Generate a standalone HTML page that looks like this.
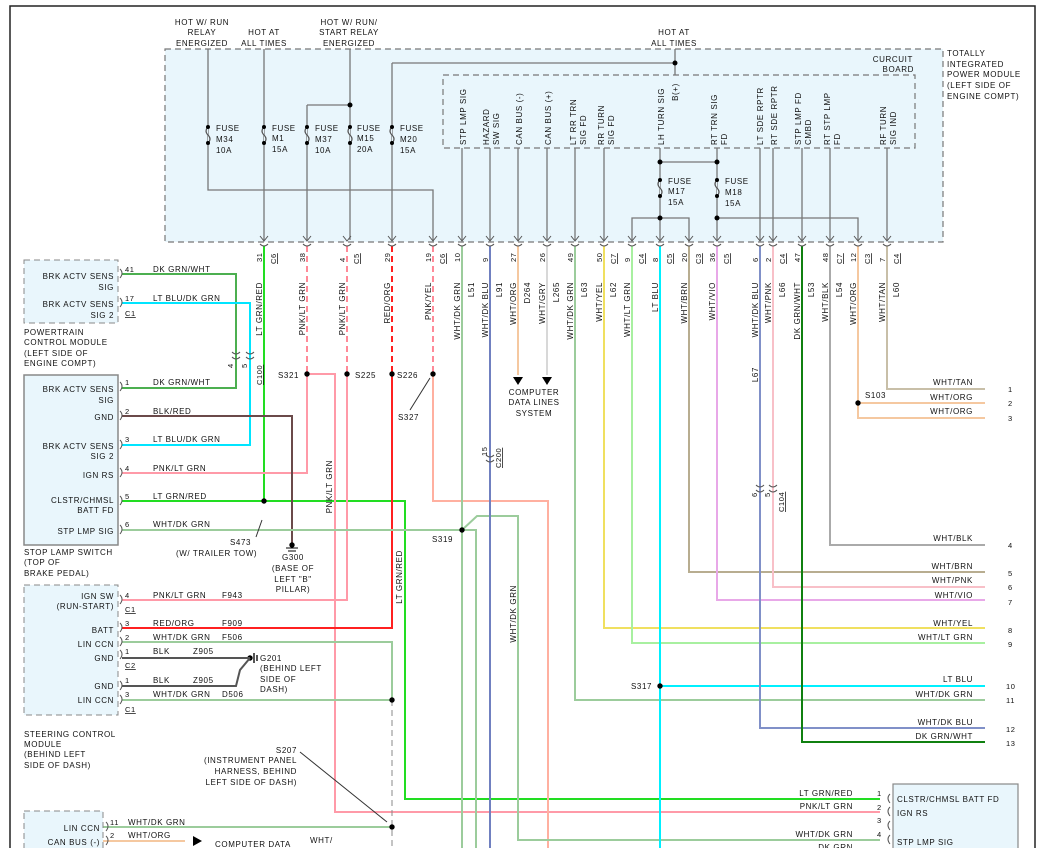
<!DOCTYPE html>
<html><head><meta charset="utf-8"><style>
html,body{margin:0;padding:0;background:#fff;}
svg{display:block;font-family:"Liberation Sans",sans-serif;font-size:8px;fill:#111;letter-spacing:0.6px;}
.w{fill:none;stroke-width:2;}
.t{fill:none;stroke:#777;stroke-width:1.3;}
.d{fill:#000;}
</style></head><body>
<svg width="1038" height="848" viewBox="0 0 1038 848" xmlns="http://www.w3.org/2000/svg">
<rect x="10" y="6" width="1025" height="860" fill="#fff" stroke="#222" stroke-width="1.5"/>
<!-- TIPM -->
<rect x="165" y="49" width="778" height="193" fill="#e9f6fc" stroke="#777" stroke-dasharray="6,4" stroke-width="1.2"/>
<rect x="443" y="75" width="472" height="73" fill="#e9f6fc" stroke="#777" stroke-dasharray="6,4" stroke-width="1.2"/>
<g text-anchor="middle">
<text x="202" y="25">HOT W/ RUN</text><text x="202" y="35">RELAY</text><text x="202" y="46">ENERGIZED</text>
<text x="264" y="35">HOT AT</text><text x="264" y="46">ALL TIMES</text>
<text x="349" y="25">HOT W/ RUN/</text><text x="349" y="35">START RELAY</text><text x="349" y="46">ENERGIZED</text>
<text x="674" y="35">HOT AT</text><text x="674" y="46">ALL TIMES</text>
</g>
<text x="947" y="56">TOTALLY</text><text x="947" y="67">INTEGRATED</text><text x="947" y="77">POWER MODULE</text><text x="947" y="88">(LEFT SIDE OF</text><text x="947" y="99">ENGINE COMPT)</text>
<text x="913" y="62" text-anchor="end">CURCUIT</text><text x="914" y="72" text-anchor="end">BOARD</text>
<!-- internal lines -->
<path class="t" d="M208 49V190H433V240 M264 49V240 M350 49V240 M307 105H350 M307 105V240 M392 63V240 M392 63H675 M675 49V75 M462 148V240 M490 148V240 M518 148V240 M547 148V240 M575 148V240 M604 148V240 M660 148V240 M660 162H717 M717 148V240 M632 240V218H689V240 M717 218H858V240 M760 148V240 M773 148V240 M802 148V240 M830 148V240 M887 148V240"/>
<g class="d"><circle cx="350" cy="105" r="2.5"/><circle cx="675" cy="63" r="2.5"/><circle cx="660" cy="162" r="2.5"/><circle cx="717" cy="162" r="2.5"/><circle cx="660" cy="218" r="2.5"/><circle cx="717" cy="218" r="2.5"/></g>
<text x="678" y="92" transform="rotate(-90 678 92)" text-anchor="middle">B(+)</text>
<!-- fuses -->
<g id="fz">
</g>
<g fill="#e9f6fc" stroke="#555" stroke-width="1.2">
<path d="M208 127q-4 4 0 8t0 8 M264 127q-4 4 0 8t0 8 M307 127q-4 4 0 8t0 8 M350 127q-4 4 0 8t0 8 M392 127q-4 4 0 8t0 8 M660 180q-4 4 0 8t0 8 M717 180q-4 4 0 8t0 8"/>
</g>
<g class="d">
<circle cx="208" cy="127" r="2"/><circle cx="208" cy="143" r="2"/><circle cx="264" cy="127" r="2"/><circle cx="264" cy="143" r="2"/><circle cx="307" cy="127" r="2"/><circle cx="307" cy="143" r="2"/><circle cx="350" cy="127" r="2"/><circle cx="350" cy="143" r="2"/><circle cx="392" cy="127" r="2"/><circle cx="392" cy="143" r="2"/><circle cx="660" cy="180" r="2"/><circle cx="660" cy="196" r="2"/><circle cx="717" cy="180" r="2"/><circle cx="717" cy="196" r="2"/>
</g>
<text x="216" y="131">FUSE</text><text x="216" y="142">M34</text><text x="216" y="153">10A</text>
<text x="272" y="131">FUSE</text><text x="272" y="141">M1</text><text x="272" y="152">15A</text>
<text x="315" y="131">FUSE</text><text x="315" y="142">M37</text><text x="315" y="153">10A</text>
<text x="357" y="131">FUSE</text><text x="357" y="141">M15</text><text x="357" y="152">20A</text>
<text x="400" y="131">FUSE</text><text x="400" y="142">M20</text><text x="400" y="153">15A</text>
<text x="668" y="184">FUSE</text><text x="668" y="194">M17</text><text x="668" y="205">15A</text>
<text x="725" y="184">FUSE</text><text x="725" y="195">M18</text><text x="725" y="206">15A</text>
<!-- board signal labels (rotated) -->
<g text-anchor="start">
<text transform="translate(466,145) rotate(-90)">STP LMP SIG</text>
<text transform="translate(489,145) rotate(-90)">HAZARD</text><text transform="translate(499,145) rotate(-90)">SW SIG</text>
<text transform="translate(522,145) rotate(-90)">CAN BUS (-)</text>
<text transform="translate(551,145) rotate(-90)">CAN BUS (+)</text>
<text transform="translate(576,145) rotate(-90)">LT RR TRN</text><text transform="translate(586,145) rotate(-90)">SIG FD</text>
<text transform="translate(604,145) rotate(-90)">RR TURN</text><text transform="translate(614,145) rotate(-90)">SIG FD</text>
<text transform="translate(664,145) rotate(-90)">LH TURN SIG</text>
<text transform="translate(717,145) rotate(-90)">RT TRN SIG</text><text transform="translate(727,145) rotate(-90)">FD</text>
<text transform="translate(763,145) rotate(-90)">LT SDE RPTR</text>
<text transform="translate(777,145) rotate(-90)">RT SDE RPTR</text>
<text transform="translate(801,145) rotate(-90)">STP LMP FD</text><text transform="translate(811,145) rotate(-90)">CMBD</text>
<text transform="translate(830,145) rotate(-90)">RT STP LMP</text><text transform="translate(840,145) rotate(-90)">FD</text>
<text transform="translate(886,145) rotate(-90)">RF TURN</text><text transform="translate(896,145) rotate(-90)">SIG IND</text>
</g>
<!-- wires -->
<path class="w" stroke="#22dd22" d="M264 246V501 M122 501H405V799H880"/>
<path class="w" stroke="#ff8a98" d="M307 246V374" stroke-dasharray="6,4"/>
<path class="w" stroke="#ff8a98" d="M347 246V374" stroke-dasharray="6,4"/>
<path class="w" stroke="#ff2020" d="M392 246V374" stroke-dasharray="6,4"/>
<path class="w" stroke="#ff8a98" d="M433 246V374" stroke-dasharray="6,4"/>
<path class="w" stroke="#ff9aa8" d="M122 473H307V374H335V812H880 M347 374V600H122"/>
<path class="w" stroke="#ff2020" d="M392 374V628H122"/>
<path class="w" stroke="#ffb0a0" d="M433 374V501H548V848"/>
<path class="w" stroke="#4caf50" d="M122 274H236V388H122"/>
<path class="w" stroke="#00e5ff" d="M122 303H250V445H122"/>
<path class="w" stroke="#6b4a4a" d="M122 416H292V545"/>
<path class="w" stroke="#9ccc9c" d="M122 530H462 M462 246V848 M462 530L477 516H518V840H880 M462 530H476V848 M122 642H392V700 M122 700H392 M103 827H392 M575 246V700H985"/>
<path class="w" stroke="#7080c0" stroke-width="1.5" d="M490 246V848"/>
<path class="w" stroke="#f5c8a0" d="M518 246V375 M103 841H185"/>
<path class="w" stroke="#d8d8d8" d="M547 246V375"/>
<path class="w" stroke="#f0e060" d="M604 246V628H985"/>
<path class="w" stroke="#a8f0a0" d="M632 246V643H985"/>
<path class="w" stroke="#00f0ff" d="M660 246V848 M660 686H985"/>
<path class="w" stroke="#b8ad90" d="M689 246V572H985"/>
<path class="w" stroke="#e8a8e8" d="M717 246V600H985"/>
<path class="w" stroke="#8090c8" stroke-width="1.5" d="M760 246V728H985"/>
<path class="w" stroke="#f8c0c8" d="M773 246V587H985"/>
<path class="w" stroke="#108010" d="M802 246V742H985"/>
<path class="w" stroke="#aaa" d="M830 246V545H985"/>
<path class="w" stroke="#f5c8a0" d="M858 246V418H985 M858 403H985"/>
<path class="w" stroke="#c8bfa8" d="M887 246V389H985"/>
<path d="M392 700V848" stroke="#888" stroke-dasharray="6,4" fill="none"/>
<!-- arrows -->
<path d="M513 377h10l-5 8z M542 377h10l-5 8z M193 836v10l9-5z" fill="#000"/>
<text x="534" y="395" text-anchor="middle">COMPUTER</text><text x="534" y="405" text-anchor="middle">DATA LINES</text><text x="534" y="416" text-anchor="middle">SYSTEM</text>
<!-- connectors at box bottom -->
<g fill="none" stroke="#555" stroke-width="1">
<path d="M260 236l4 5 4-5 M260 244q4 4 8 0 M303 236l4 5 4-5 M303 244q4 4 8 0 M343 236l4 5 4-5 M343 244q4 4 8 0 M388 236l4 5 4-5 M388 244q4 4 8 0 M429 236l4 5 4-5 M429 244q4 4 8 0 M458 236l4 5 4-5 M458 244q4 4 8 0 M486 236l4 5 4-5 M486 244q4 4 8 0 M514 236l4 5 4-5 M514 244q4 4 8 0 M543 236l4 5 4-5 M543 244q4 4 8 0 M571 236l4 5 4-5 M571 244q4 4 8 0 M600 236l4 5 4-5 M600 244q4 4 8 0 M628 236l4 5 4-5 M628 244q4 4 8 0 M656 236l4 5 4-5 M656 244q4 4 8 0 M685 236l4 5 4-5 M685 244q4 4 8 0 M713 236l4 5 4-5 M713 244q4 4 8 0 M756 236l4 5 4-5 M756 244q4 4 8 0 M769 236l4 5 4-5 M769 244q4 4 8 0 M798 236l4 5 4-5 M798 244q4 4 8 0 M826 236l4 5 4-5 M826 244q4 4 8 0 M854 236l4 5 4-5 M854 244q4 4 8 0 M883 236l4 5 4-5 M883 244q4 4 8 0"/>
<path d="M232 352q4 4 8 0M232 357q4 4 8 0M246 352q4 4 8 0M246 357q4 4 8 0 M486 455q4 4 8 0M486 460q4 4 8 0 M756 485q4 4 8 0M756 490q4 4 8 0M769 485q4 4 8 0M769 490q4 4 8 0"/>
<path d="M120 269q4 4 0 9 M120 298q4 4 0 9 M120 382q4 4 0 9 M120 411q4 4 0 9 M120 440q4 4 0 9 M120 468q4 4 0 9 M120 496q4 4 0 9 M120 525q4 4 0 9 M120 595q4 4 0 9 M120 623q4 4 0 9 M120 637q4 4 0 9 M120 650q4 4 0 9 M120 681q4 4 0 9 M120 695q4 4 0 9 M106 822q4 4 0 9 M106 836q4 4 0 9 M890 794q-4 4 0 9 M890 807q-4 4 0 9 M890 821q-4 4 0 9 M890 835q-4 4 0 9"/>
</g>
<!-- rotated pin nums & wire labels -->
<g font-size="7.5">
<text transform="translate(262,262) rotate(-90)">31</text><text transform="translate(276,264) rotate(-90)" text-decoration="underline">C6</text>
<text transform="translate(305,262) rotate(-90)">38</text>
<text transform="translate(345,262) rotate(-90)">4</text><text transform="translate(359,264) rotate(-90)" text-decoration="underline">C5</text>
<text transform="translate(390,262) rotate(-90)">29</text>
<text transform="translate(431,262) rotate(-90)">19</text><text transform="translate(445,264) rotate(-90)" text-decoration="underline">C6</text>
<text transform="translate(460,262) rotate(-90)">10</text>
<text transform="translate(488,262) rotate(-90)">9</text>
<text transform="translate(516,262) rotate(-90)">27</text>
<text transform="translate(545,262) rotate(-90)">26</text>
<text transform="translate(573,262) rotate(-90)">49</text>
<text transform="translate(602,262) rotate(-90)">50</text><text transform="translate(616,264) rotate(-90)" text-decoration="underline">C7</text>
<text transform="translate(630,262) rotate(-90)">9</text><text transform="translate(644,264) rotate(-90)" text-decoration="underline">C4</text>
<text transform="translate(658,262) rotate(-90)">8</text><text transform="translate(672,264) rotate(-90)" text-decoration="underline">C5</text>
<text transform="translate(687,262) rotate(-90)">20</text><text transform="translate(701,264) rotate(-90)" text-decoration="underline">C3</text>
<text transform="translate(715,262) rotate(-90)">36</text><text transform="translate(729,264) rotate(-90)" text-decoration="underline">C5</text>
<text transform="translate(758,262) rotate(-90)">6</text>
<text transform="translate(771,262) rotate(-90)">2</text><text transform="translate(785,264) rotate(-90)" text-decoration="underline">C4</text>
<text transform="translate(800,262) rotate(-90)">47</text>
<text transform="translate(828,262) rotate(-90)">48</text><text transform="translate(842,264) rotate(-90)" text-decoration="underline">C7</text>
<text transform="translate(856,262) rotate(-90)">12</text><text transform="translate(870,264) rotate(-90)" text-decoration="underline">C3</text>
<text transform="translate(885,262) rotate(-90)">7</text><text transform="translate(899,264) rotate(-90)" text-decoration="underline">C4</text>
</g>
<g text-anchor="end">
<text transform="translate(262,282) rotate(-90)">LT GRN/RED</text>
<text transform="translate(305,282) rotate(-90)">PNK/LT GRN</text>
<text transform="translate(345,282) rotate(-90)">PNK/LT GRN</text>
<text transform="translate(390,282) rotate(-90)">RED/ORG</text>
<text transform="translate(431,282) rotate(-90)">PNK/YEL</text>
<text transform="translate(460,282) rotate(-90)">WHT/DK GRN</text><text transform="translate(474,282) rotate(-90)">L51</text>
<text transform="translate(488,282) rotate(-90)">WHT/DK BLU</text><text transform="translate(502,282) rotate(-90)">L91</text>
<text transform="translate(516,282) rotate(-90)">WHT/ORG</text><text transform="translate(530,282) rotate(-90)">D264</text>
<text transform="translate(545,282) rotate(-90)">WHT/GRY</text><text transform="translate(559,282) rotate(-90)">L265</text>
<text transform="translate(573,282) rotate(-90)">WHT/DK GRN</text><text transform="translate(587,282) rotate(-90)">L63</text>
<text transform="translate(602,282) rotate(-90)">WHT/YEL</text><text transform="translate(616,282) rotate(-90)">L62</text>
<text transform="translate(630,282) rotate(-90)">WHT/LT GRN</text>
<text transform="translate(658,282) rotate(-90)">LT BLU</text>
<text transform="translate(687,282) rotate(-90)">WHT/BRN</text>
<text transform="translate(715,282) rotate(-90)">WHT/VIO</text>
<text transform="translate(758,282) rotate(-90)">WHT/DK BLU</text>
<text transform="translate(771,282) rotate(-90)">WHT/PNK</text><text transform="translate(785,282) rotate(-90)">L66</text>
<text transform="translate(800,282) rotate(-90)">DK GRN/WHT</text><text transform="translate(814,282) rotate(-90)">L53</text>
<text transform="translate(828,282) rotate(-90)">WHT/BLK</text><text transform="translate(842,282) rotate(-90)">L54</text>
<text transform="translate(856,282) rotate(-90)">WHT/ORG</text>
<text transform="translate(885,282) rotate(-90)">WHT/TAN</text><text transform="translate(899,282) rotate(-90)">L60</text>
<text transform="translate(758,367) rotate(-90)">L67</text>
<text transform="translate(332,460) rotate(-90)">PNK/LT GRN</text>
<text transform="translate(402,550) rotate(-90)">LT GRN/RED</text>
<text transform="translate(516,585) rotate(-90)">WHT/DK GRN</text>
</g>
<g font-size="7.5">
<text transform="translate(233,368) rotate(-90)">4</text><text transform="translate(247,368) rotate(-90)">5</text>
<text transform="translate(262,385) rotate(-90)" text-decoration="underline">C100</text>
<text transform="translate(487,456) rotate(-90)">15</text><text transform="translate(501,468) rotate(-90)" text-decoration="underline">C200</text>
<text transform="translate(757,497) rotate(-90)">6</text><text transform="translate(770,497) rotate(-90)">5</text>
<text transform="translate(784,512) rotate(-90)" text-decoration="underline">C104</text>
</g>
<!-- splices -->
<g class="d"><circle cx="307" cy="374" r="2.7"/><circle cx="347" cy="374" r="2.7"/><circle cx="392" cy="374" r="2.7"/><circle cx="433" cy="374" r="2.7"/><circle cx="264" cy="501" r="2.7"/><circle cx="462" cy="530" r="2.7"/><circle cx="858" cy="403" r="2.7"/><circle cx="660" cy="686" r="2.7"/><circle cx="392" cy="700" r="2.7"/><circle cx="392" cy="827" r="2.7"/><circle cx="292" cy="545" r="2.7"/><circle cx="250" cy="658" r="2.7"/></g>
<text x="278" y="378">S321</text><text x="355" y="378">S225</text><text x="397" y="378">S226</text><text x="398" y="420">S327</text>
<text x="432" y="542">S319</text><text x="631" y="689">S317</text><text x="865" y="398">S103</text>
<path d="M410 410L430 378 M262 520L256 537 M300 752L387 822" stroke="#333" fill="none"/>
<text x="230" y="545">S473</text><text x="176" y="556">(W/ TRAILER TOW)</text>
<g text-anchor="middle"><text x="293" y="560">G300</text><text x="293" y="571">(BASE OF</text><text x="293" y="582">LEFT "B"</text><text x="293" y="592">PILLAR)</text></g>
<path d="M286 548h12M288 551h8" stroke="#000"/>
<path d="M122 658H250 M122 686H236L240 670L250 658 M254 653v10M257 655v6" stroke="#555" stroke-width="2" fill="none"/>
<text x="260" y="661">G201</text><text x="260" y="671">(BEHIND LEFT</text><text x="260" y="682">SIDE OF</text><text x="260" y="692">DASH)</text>
<text x="297" y="753" text-anchor="end">S207</text><text x="297" y="763" text-anchor="end">(INSTRUMENT PANEL</text><text x="297" y="774" text-anchor="end">HARNESS, BEHIND</text><text x="297" y="785" text-anchor="end">LEFT SIDE OF DASH)</text>
<!-- left modules -->
<rect x="24" y="260" width="94" height="63" fill="#e9f6fc" stroke="#888" stroke-dasharray="6,4"/>
<g text-anchor="end"><text x="114" y="279">BRK ACTV SENS</text><text x="114" y="290">SIG</text><text x="114" y="307">BRK ACTV SENS</text><text x="114" y="318">SIG 2</text></g>
<text x="24" y="335">POWERTRAIN</text><text x="24" y="345">CONTROL MODULE</text><text x="24" y="356">(LEFT SIDE OF</text><text x="24" y="366">ENGINE COMPT)</text>
<rect x="24" y="375" width="94" height="170" fill="#e9f6fc" stroke="#888" stroke-width="1.5"/>
<g text-anchor="end"><text x="114" y="392">BRK ACTV SENS</text><text x="114" y="403">SIG</text><text x="114" y="420">GND</text><text x="114" y="449">BRK ACTV SENS</text><text x="114" y="459">SIG 2</text><text x="114" y="478">IGN RS</text><text x="114" y="503">CLSTR/CHMSL</text><text x="114" y="513">BATT FD</text><text x="114" y="534">STP LMP SIG</text></g>
<text x="24" y="555">STOP LAMP SWITCH</text><text x="24" y="565">(TOP OF</text><text x="24" y="576">BRAKE PEDAL)</text>
<rect x="24" y="585" width="94" height="130" fill="#e9f6fc" stroke="#888" stroke-dasharray="6,4"/>
<g text-anchor="end"><text x="114" y="599">IGN SW</text><text x="114" y="609">(RUN-START)</text><text x="114" y="633">BATT</text><text x="114" y="647">LIN CCN</text><text x="114" y="661">GND</text><text x="114" y="689">GND</text><text x="114" y="703">LIN CCN</text></g>
<text x="24" y="737">STEERING CONTROL</text><text x="24" y="747">MODULE</text><text x="24" y="757">(BEHIND LEFT</text><text x="24" y="768">SIDE OF DASH)</text>
<rect x="24" y="811" width="79" height="50" fill="#e9f6fc" stroke="#888" stroke-dasharray="6,4"/>
<g text-anchor="end"><text x="100" y="831">LIN CCN</text><text x="100" y="845">CAN BUS (-)</text></g>
<!-- left pin labels -->
<g font-size="7.5"><text x="125" y="272">41</text><text x="125" y="301">17</text><text x="125" y="316" text-decoration="underline">C1</text>
<text x="125" y="385">1</text><text x="125" y="414">2</text><text x="125" y="442">3</text><text x="125" y="471">4</text><text x="125" y="499">5</text><text x="125" y="527">6</text>
<text x="125" y="598">4</text><text x="125" y="612" text-decoration="underline">C1</text><text x="125" y="626">3</text><text x="125" y="640">2</text><text x="125" y="654">1</text><text x="125" y="668" text-decoration="underline">C2</text><text x="125" y="683">1</text><text x="125" y="697">3</text><text x="125" y="712" text-decoration="underline">C1</text>
<text x="110" y="825">11</text><text x="110" y="838">2</text></g>
<text x="153" y="272">DK GRN/WHT</text><text x="153" y="301">LT BLU/DK GRN</text><text x="153" y="385">DK GRN/WHT</text><text x="153" y="414">BLK/RED</text><text x="153" y="442">LT BLU/DK GRN</text><text x="153" y="471">PNK/LT GRN</text><text x="153" y="499">LT GRN/RED</text><text x="153" y="527">WHT/DK GRN</text>
<text x="153" y="598">PNK/LT GRN</text><text x="222" y="598">F943</text><text x="153" y="626">RED/ORG</text><text x="222" y="626">F909</text><text x="153" y="640">WHT/DK GRN</text><text x="222" y="640">F506</text><text x="153" y="654">BLK</text><text x="193" y="654">Z905</text><text x="153" y="683">BLK</text><text x="193" y="683">Z905</text><text x="153" y="697">WHT/DK GRN</text><text x="222" y="697">D506</text>
<text x="128" y="825">WHT/DK GRN</text><text x="128" y="838">WHT/ORG</text><text x="215" y="847">COMPUTER DATA</text><text x="310" y="843">WHT/</text>
<!-- right labels -->
<g text-anchor="end"><text x="973" y="385">WHT/TAN</text><text x="973" y="400">WHT/ORG</text><text x="973" y="414">WHT/ORG</text><text x="973" y="541">WHT/BLK</text><text x="973" y="569">WHT/BRN</text><text x="973" y="583">WHT/PNK</text><text x="973" y="598">WHT/VIO</text><text x="973" y="626">WHT/YEL</text><text x="973" y="640">WHT/LT GRN</text><text x="973" y="682">LT BLU</text><text x="973" y="697">WHT/DK GRN</text><text x="973" y="725">WHT/DK BLU</text><text x="973" y="739">DK GRN/WHT</text>
<text x="853" y="796">LT GRN/RED</text><text x="853" y="809">PNK/LT GRN</text><text x="853" y="837">WHT/DK GRN</text><text x="853" y="850">DK GRN</text></g>
<g font-size="7.5"><text x="1008" y="392">1</text><text x="1008" y="406">2</text><text x="1008" y="421">3</text><text x="1008" y="548">4</text><text x="1008" y="576">5</text><text x="1008" y="590">6</text><text x="1008" y="605">7</text><text x="1008" y="633">8</text><text x="1008" y="647">9</text><text x="1006" y="689">10</text><text x="1006" y="703">11</text><text x="1006" y="732">12</text><text x="1006" y="746">13</text>
<text x="877" y="796">1</text><text x="877" y="810">2</text><text x="877" y="823">3</text><text x="877" y="837">4</text></g>
<rect x="893" y="784" width="125" height="80" fill="#e9f6fc" stroke="#888" stroke-width="1.2"/>
<text x="897" y="802">CLSTR/CHMSL BATT FD</text><text x="897" y="816">IGN RS</text><text x="897" y="845">STP LMP SIG</text>
</svg>
</body></html>
